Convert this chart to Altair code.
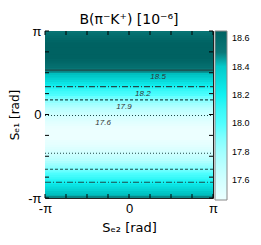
import numpy as np
import pandas as pd
import altair as alt

PI = np.pi
TITLE = "B(π⁻K⁺) [10⁻⁶]"
X_TITLE = "Sₑ₂ [rad]"
Y_TITLE = "Sₑ₁ [rad]"

B_ROWS = [18.49, 18.45, 18.41, 18.36, 18.32, 18.27, 18.22, 18.17, 18.11, 18.06,
          18.01, 17.96, 17.90, 17.85, 17.81, 17.76, 17.71, 17.67, 17.63, 17.60,
          17.56, 17.54, 17.51, 17.49, 17.48, 17.46, 17.46, 17.45, 17.46, 17.46,
          17.47, 17.49, 17.51, 17.54, 17.56, 17.60, 17.63, 17.67, 17.71, 17.76,
          17.80, 17.85, 17.90, 17.95, 18.01, 18.06, 18.11, 18.16, 18.22, 18.27,
          18.32, 18.36, 18.41, 18.45, 18.49, 18.52, 18.56, 18.58, 18.61, 18.63,
          18.65, 18.66, 18.66, 18.67, 18.66, 18.66, 18.65, 18.63, 18.61, 18.59,
          18.56, 18.53]

# contour lines (S_e1 positions) and their levels
CONTOUR_LEVELS = ["18.5", "18.2", "17.9", "17.6", "17.6", "17.9", "18.2"]
CONTOUR_Y = [1.67, 1.05, 0.55, -0.04, -1.46, -2.06, -2.55]

# contour labels
LABEL_TEXT = ["18.5", "18.2", "17.9", "17.6"]
LABEL_X = [1.09, 0.52, -0.19, -0.97]
LABEL_Y = [1.67, 1.05, 0.55, -0.04]

CB_TICKS = [17.6, 17.8, 18.0, 18.2, 18.4, 18.6]
AXIS_TICKS = [k * PI / 4 for k in range(-4, 5)]
AXIS_LABELS = [-PI, 0.0, PI]

W, H = 168, 167

edges = np.linspace(-PI, PI, len(B_ROWS) + 1)
overlap = 0.03  # small overlap between bands to hide anti-aliasing seams
heat_df = pd.DataFrame({
    "x0": -PI, "x1": PI,
    "y0": edges[:-1],
    "y1": np.minimum(edges[1:] + overlap, PI),
    "B": B_ROWS,
})
cont_df = pd.DataFrame({"level": CONTOUR_LEVELS, "y": CONTOUR_Y, "xa": -PI, "xb": PI})
lab_df = pd.DataFrame({"text": LABEL_TEXT, "x": LABEL_X, "y": LABEL_Y})
tick_df = pd.DataFrame({"t": AXIS_TICKS})

xs = alt.Scale(domain=[-PI, PI], nice=False, zero=False)
ys = alt.Scale(domain=[-PI, PI], nice=False, zero=False)
color_scale = alt.Scale(domain=[17.46, 17.75, 18.0, 18.2, 18.45, 18.5, 18.65],
                        range=["#ecffff", "#b0ffff", "#50ffff", "#10f2f2", "#00c0c0",
                               "#0a7878", "#006262"],
                        clamp=True)
lab_expr = "datum.value < -1 ? '-π' : (datum.value > 1 ? 'π' : '0')"

heat = alt.Chart(heat_df).mark_rect().encode(
    x=alt.X("x0:Q", scale=xs, title=X_TITLE,
            axis=alt.Axis(values=AXIS_LABELS, labelExpr=lab_expr, ticks=False, domain=False,
                          grid=False, labelFontSize=13, labelPadding=4, labelFlush=False,
                          titleFontSize=13, titleFontWeight="normal", titlePadding=6,
                          labelColor="#000", titleColor="#000", titleFont="DejaVu Sans")),
    x2="x1",
    y=alt.Y("y0:Q", scale=ys, title=Y_TITLE,
            axis=alt.Axis(values=AXIS_LABELS, labelExpr=lab_expr, ticks=False, domain=False,
                          grid=False, labelFontSize=13, labelPadding=4, labelFlush=False,
                          titleFontSize=12, titleFontWeight="normal", titlePadding=6,
                          labelColor="#000", titleColor="#000", titleFont="DejaVu Sans")),
    y2="y1",
    color=alt.Color("B:Q", scale=color_scale, title=None,
                    legend=alt.Legend(type="gradient", orient="none", legendX=170, legendY=0,
                                      direction="vertical",
                                      gradientLength=169, gradientThickness=12, values=CB_TICKS,
                                      format=".1f", labelFontSize=9, labelOffset=5,
                                      labelOverlap=False, gradientStrokeColor="#888",
                                      gradientStrokeWidth=1, padding=0, labelColor="#000")),
)

contours = alt.Chart(cont_df).mark_rule(color="#1f4a4a", strokeWidth=1.1).encode(
    x=alt.X("xa:Q", scale=xs),
    x2="xb",
    y=alt.Y("y:Q", scale=ys),
    strokeDash=alt.StrokeDash("level:N", legend=None,
                              scale=alt.Scale(domain=["18.5", "18.2", "17.9", "17.6"],
                                              range=[[1, 0], [6, 2, 1, 2], [3, 2], [1, 2]])),
)

labels = alt.Chart(lab_df).mark_text(fontStyle="italic", fontSize=8, color="#333", dy=7).encode(
    x=alt.X("x:Q", scale=xs), y=alt.Y("y:Q", scale=ys), text="text:N")

tick_bottom = alt.Chart(tick_df).mark_rule(color="#000").encode(
    x=alt.X("t:Q", scale=xs), y=alt.value(H), y2=alt.value(H - 4))
tick_top = alt.Chart(tick_df).mark_rule(color="#000").encode(
    x=alt.X("t:Q", scale=xs), y=alt.value(0), y2=alt.value(4))
tick_left = alt.Chart(tick_df).mark_rule(color="#000").encode(
    y=alt.Y("t:Q", scale=ys), x=alt.value(0), x2=alt.value(4))
tick_right = alt.Chart(tick_df).mark_rule(color="#000").encode(
    y=alt.Y("t:Q", scale=ys), x=alt.value(W), x2=alt.value(W - 4))

chart = alt.layer(heat, contours, labels, tick_bottom, tick_top, tick_left, tick_right).properties(
    width=W, height=H,
    autosize="none",
    padding={"left": 37, "top": 23, "right": 40, "bottom": 39},
    title=alt.TitleParams(TITLE, fontSize=14, fontWeight="normal", offset=4, anchor="middle",
                          color="#000", font="DejaVu Sans", dy=6),
).configure(font="Liberation Sans").configure_view(stroke="#222", strokeWidth=1)

chart.save("out.html", embed_options={"renderer": "svg", "actions": False})
